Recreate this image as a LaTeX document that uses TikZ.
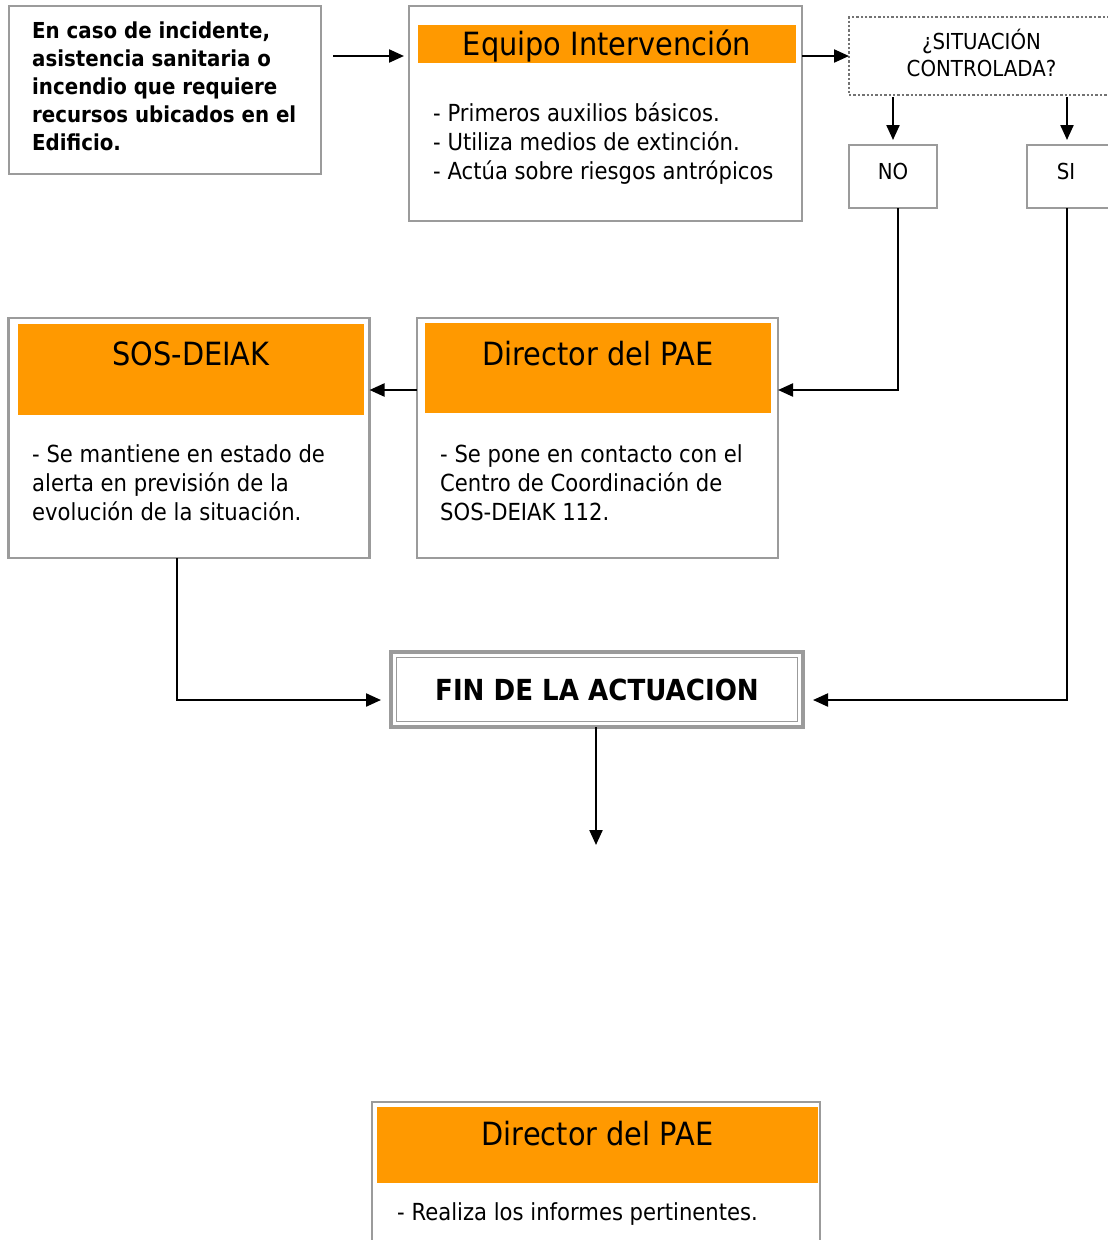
\documentclass[tikz,border=0pt]{standalone}
\usepackage{fontspec}
\setmainfont{DejaVu Sans}[FakeStretch=0.9]
\usetikzlibrary{arrows.meta}
\definecolor{bandc}{RGB}{255,153,0}
\definecolor{framec}{RGB}{155,155,155}
\definecolor{dotc}{RGB}{115,115,115}
\newcommand{\fsBody}{\fontsize{23.5pt}{29pt}\selectfont}
\newcommand{\fsTitle}{\fontsize{32pt}{36pt}\selectfont}
\newcommand{\fsBold}{\fontsize{22pt}{28pt}\selectfont\bfseries}
\newcommand{\fsSmall}{\fontsize{22pt}{27pt}\selectfont}
\newcommand{\fsFin}{\fontsize{29pt}{34pt}\selectfont\bfseries}
\begin{document}
\begin{tikzpicture}[x=1pt,y=-1pt,
  box/.style={draw=framec, line width=2.8pt, fill=white, inner sep=0pt, outer sep=0pt},
  bandbox/.style={fill=bandc, inner sep=0pt, outer sep=0pt, font=\fsTitle},
  bodytext/.style={anchor=north west, align=left, inner sep=0pt, font=\fsBody},
  arr/.style={-{Triangle[length=15pt,width=13pt]}, line width=2.2pt}]
\useasboundingbox (0,0) rectangle (1108,1240);
\clip (0,0) rectangle (1108,1240);

% Box 1
\node[box, minimum width=312pt, minimum height=168pt] (start) at (165,90) {};
\node[bodytext, font=\fsBold] (starttxt) at (32,21.3) {En caso de incidente,\\asistencia sanitaria o\\incendio que requiere\\recursos ubicados en el\\Edificio.};

% Equipo Intervencion
\node[box, minimum width=393pt, minimum height=215pt] (equipo) at (605.5,113.5) {};
\node[bandbox, minimum width=378pt, minimum height=38pt, text height=22pt, text depth=0pt] (equipoband) at (607,44) {Equipo Intervención};
\node[bodytext] (equipotxt) at (433,102.7) {- Primeros auxilios básicos.\\- Utiliza medios de extinción.\\- Actúa sobre riesgos antrópicos};

% Question
\node[draw=dotc, line width=2.6pt, dash pattern=on 2.4pt off 2pt, minimum width=265pt, minimum height=78pt, inner sep=0pt, outer sep=0pt, align=center, font=\fsSmall] (q) at (981.5,56) {¿SITUACIÓN\\CONTROLADA?\rule[-6pt]{0pt}{6pt}};

\node[box, minimum width=88pt, minimum height=63pt, font=\fsSmall, text height=16pt, text depth=10pt] (no) at (893,176.5) {NO};
\node[box, minimum width=86pt, minimum height=63pt, font=\fsSmall, text height=16pt, text depth=10pt] (si) at (1070,176.5) {SI\hspace*{8pt}};

% Director 1
\node[box, minimum width=361pt, minimum height=240pt] (dir1) at (597.5,438) {};
\node[bandbox, minimum width=346pt, minimum height=90pt, text height=10pt, text depth=16pt] (dir1band) at (598,368) {Director del PAE};
\node[bodytext] (dir1txt) at (440,444.5) {- Se pone en contacto con el\\Centro de Coordinación de\\SOS-DEIAK 112.};

% SOS-DEIAK
\node[box, minimum width=361pt, minimum height=240pt] (sos) at (189,438) {};
\node[bandbox, minimum width=346pt, minimum height=91pt, text height=10pt, text depth=19pt] (sosband) at (191,369.5) {SOS-DEIAK};
\node[bodytext] (sostxt) at (32,444.5) {- Se mantiene en estado de\\alerta en previsión de la\\evolución de la situación.};

% FIN
\node[draw=framec, line width=3.5pt, fill=white, minimum width=412pt, minimum height=75pt, inner sep=0pt, outer sep=0pt, font=\fsFin] (fin) at (597,689.5) {FIN DE LA ACTUACION};
\draw[framec, line width=1.3pt] ([shift={(5.5pt,-5.5pt)}]fin.north west) rectangle ([shift={(-5.5pt,5.5pt)}]fin.south east);

% Director 2
\node[box, minimum width=448pt, minimum height=200pt] (dir2) at (596,1202) {};
\node[bandbox, minimum width=441pt, minimum height=76pt, text height=10pt, text depth=10pt] (dir2band) at (597.5,1145) {Director del PAE};
\node[bodytext] (dir2txt) at (397,1202) {- Realiza los informes pertinentes.};

% Connectors
\coordinate (a1) at ([yshift=34pt]start.east);
\draw[arr, shorten <=12pt, shorten >=5pt] (a1) -- (a1 -| equipo.west);
\draw[arr] (equipo.east |- q.west) -- (q.west);
\draw[arr, shorten <=2pt, shorten >=5pt] (q.south -| no.north) -- (no.north);
\coordinate (sitop) at ([xshift=-3pt]si.north);
\draw[arr, shorten <=2pt, shorten >=5pt] (sitop |- q.south) -- (sitop);
\draw[arr] ([xshift=5pt]no.south) |- ([yshift=48pt]dir1.east);
\draw[arr, shorten >=10pt] ([xshift=-3pt]si.south) |- ([yshift=-10.5pt]fin.east);
\draw[arr] ([yshift=48pt]dir1.west) -- ([yshift=48pt]sos.east);
\draw[arr, shorten >=10pt] ([xshift=-12pt]sos.south) |- ([yshift=-10.5pt]fin.west);
\coordinate (finend) at (596,845);
\draw[arr] (fin.south -| finend) -- (finend);
\end{tikzpicture}
\end{document}
